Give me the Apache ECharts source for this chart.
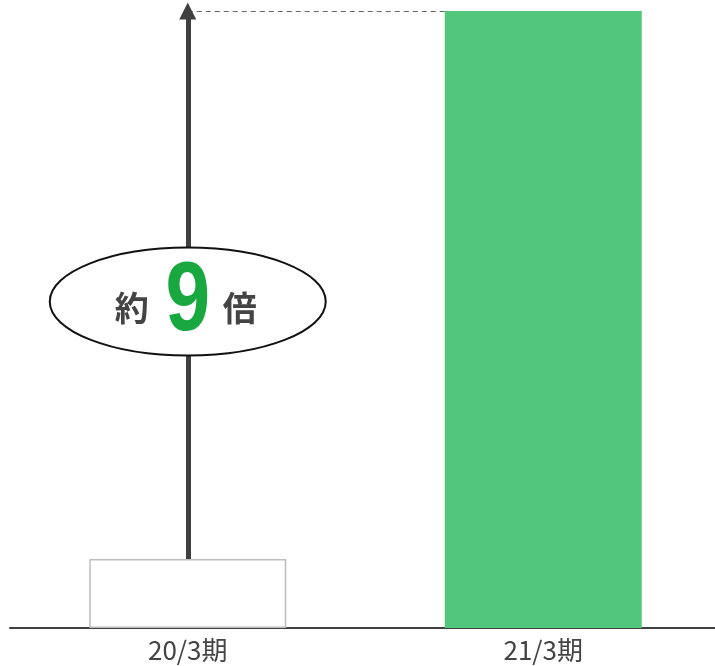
<!DOCTYPE html>
<html>
<head>
<meta charset="utf-8">
<script src="https://cdn.jsdelivr.net/npm/echarts@6/dist/echarts.min.js"></script>
<style>
  html, body { margin: 0; padding: 0; background: #fff; }
  #chart { width: 715px; height: 666px; }
</style>
</head>
<body>
<div id="chart"></div>
<script>
// Fiscal periods and relative values (previous period = 1)
const categories = ['20/3期', '21/3期'];
const values = [1.0, 8.95];
const ratioLabel = '9';

const FONT = '"Noto Sans CJK JP", "Noto Sans", sans-serif';
const chart = echarts.init(document.getElementById('chart'), null, { renderer: 'canvas' });

chart.setOption({
  animation: false,
  grid: { left: 10, width: 711, top: 11, bottom: 38, outerBoundsMode: 'none', containLabel: false },
  xAxis: {
    type: 'category',
    data: categories,
    axisLine: { lineStyle: { color: '#404040', width: 2 } },
    axisTick: { show: false },
    axisLabel: { color: '#444', fontSize: 26, fontFamily: FONT, margin: 9 }
  },
  yAxis: {
    type: 'value',
    min: 0,
    max: values[1],
    show: false,
    splitLine: { show: false }
  },
  series: [
    {
      // carrier for the dashed level line, drawn beneath the bars
      type: 'line',
      data: [],
      z: 1,
      markLine: {
        z: 1,
        silent: true,
        animation: false,
        symbol: 'none',
        label: { show: false },
        lineStyle: { type: [5, 4], color: '#666', width: 1.2 },
        data: [[
          { coord: [categories[0], values[1]] },
          { coord: [categories[1], values[1]] }
        ]]
      }
    },
    {
      type: 'bar',
      barWidth: 197,
      z: 3,
      data: [
        { value: values[0], itemStyle: { color: '#fff', borderColor: '#bdbdbd', borderWidth: 1.5 } },
        { value: values[1], itemStyle: { color: '#52c67a' } }
      ],
      markLine: {
        silent: true,
        animation: false,
        label: { show: false },
        data: [
          // growth arrow from the earlier bar up to the later level
          [
            { coord: [categories[0], values[0]], symbol: 'none',
              lineStyle: { type: 'solid', color: '#404040', width: 5 } },
            { coord: [categories[0], values[1]], symbol: 'triangle', symbolSize: [17, 17] }
          ]
        ]
      }
    }
  ]
});

// Ratio badge on the arrow
const cx = chart.convertToPixel({ xAxisIndex: 0 }, categories[0]);
const cy = 301.5;
chart.setOption({
  graphic: [
    {
      type: 'ellipse',
      shape: { cx: cx, cy: cy, rx: 138, ry: 54 },
      style: { fill: '#fff', stroke: '#111', lineWidth: 2 },
      z: 100
    },
    {
      type: 'text',
      x: cx - 56, y: cy + 7,
      style: { text: '約', fill: '#444', font: 'bold 34px ' + FONT, align: 'center', verticalAlign: 'middle' },
      z: 101
    },
    {
      type: 'text',
      x: cx, y: cy + 1,
      scaleX: 0.82,
      style: { text: ratioLabel, fill: '#18a83f', font: 'bold 98px "Liberation Sans", Arial, sans-serif', align: 'center', verticalAlign: 'middle' },
      z: 101
    },
    {
      type: 'text',
      x: cx + 52, y: cy + 7,
      style: { text: '倍', fill: '#444', font: 'bold 34px ' + FONT, align: 'center', verticalAlign: 'middle' },
      z: 101
    }
  ]
});
</script>
</body>
</html>
